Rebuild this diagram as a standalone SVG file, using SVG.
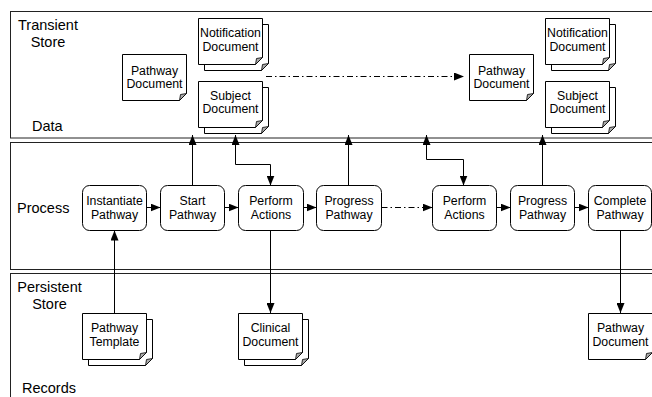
<svg xmlns="http://www.w3.org/2000/svg" xmlns:xlink="http://www.w3.org/1999/xlink" width="652" height="397" viewBox="0 0 652 397">
  <style>
    .band { fill: #fff; stroke: #222; stroke-width: 1; }
    .band-label { font-family: "Liberation Sans", Arial, sans-serif; font-size: 14.5px; fill: #000; }
    .node rect { fill: #fff; stroke: #000; stroke-width: 1; }
    .lbl { font-family: "Liberation Sans", Arial, sans-serif; font-size: 12.3px; fill: #000; text-anchor: middle; }
    .page { fill: #fff; stroke: #000; stroke-width: 1; stroke-linejoin: miter; }
    .flap { fill: #aaa; stroke: #000; stroke-width: 0.8; stroke-linejoin: miter; }
    .conn { fill: none; stroke: #000; stroke-width: 1; }
    .dashdot { stroke-dasharray: 6 3 1.5 3; }
  </style>
  <defs>
    <marker id="ah" viewBox="0 0 10 8" refX="10" refY="4" markerWidth="10" markerHeight="8" markerUnits="userSpaceOnUse" orient="auto-start-reverse">
      <path d="M0,0 L10,4 L0,8 z" fill="#000"/>
    </marker>
    <!-- single document page, 64 x 46, folded bottom-right corner -->
    <g id="page">
      <path class="page" d="M0,0 H64 V39 L57,46 H0 Z"/>
      <path class="flap" d="M64,39 L57,46 L58,40 Z"/>
    </g>
    <!-- stacked documents: back page offset behind front page -->
    <g id="stack">
      <use xlink:href="#page" x="6" y="6"/>
      <use xlink:href="#page"/>
    </g>
  </defs>

  <!-- swimlane bands -->
  <g id="bands">
    <rect class="band" x="10.5" y="11.5" width="700" height="126.5"/>
    <rect class="band" x="10.5" y="142.5" width="700" height="127"/>
    <rect class="band" x="10.5" y="273.5" width="700" height="160"/>
    <text class="band-label" x="48" y="30" text-anchor="middle">Transient</text>
    <text class="band-label" x="48" y="46.5" text-anchor="middle">Store</text>
    <text class="band-label" x="32" y="131">Data</text>
    <text class="band-label" x="17" y="213">Process</text>
    <text class="band-label" x="49.5" y="292" text-anchor="middle">Persistent</text>
    <text class="band-label" x="49.5" y="309" text-anchor="middle">Store</text>
    <text class="band-label" x="22" y="393">Records</text>
  </g>

  <!-- connectors -->
  <g id="connectors">
    <!-- process flow -->
    <path class="conn" d="M146.5,207.5 H160.5" marker-end="url(#ah)"/>
    <path class="conn" d="M224.5,207.5 H238.5" marker-end="url(#ah)"/>
    <path class="conn" d="M303.5,207.5 H316.5" marker-end="url(#ah)"/>
    <path class="conn dashdot" d="M381.5,207.5 H432.5" marker-end="url(#ah)"/>
    <path class="conn" d="M496.5,207.5 H510.5" marker-end="url(#ah)"/>
    <path class="conn" d="M574.5,207.5 H588.5" marker-end="url(#ah)"/>
    <!-- process to transient data -->
    <path class="conn" d="M192.5,185.5 V135" marker-end="url(#ah)"/>
    <path class="conn" d="M235.5,135 V164.5 H270.5 V185.5" marker-start="url(#ah)" marker-end="url(#ah)"/>
    <path class="conn" d="M348.5,185.5 V135" marker-end="url(#ah)"/>
    <path class="conn" d="M426.5,135 V159.5 H463.5 V185.5" marker-start="url(#ah)" marker-end="url(#ah)"/>
    <path class="conn" d="M542.5,185.5 V135" marker-end="url(#ah)"/>
    <!-- records -->
    <path class="conn" d="M114.5,313.5 V230.5" marker-end="url(#ah)"/>
    <path class="conn" d="M270.5,230.5 V313" marker-end="url(#ah)"/>
    <path class="conn" d="M620.5,230.5 V313" marker-end="url(#ah)"/>
    <!-- pathway document hand-over -->
    <path class="conn dashdot" d="M266,76.5 H464" marker-end="url(#ah)"/>
  </g>

  <!-- transient store documents -->
  <g id="doc-pathway-1">
    <use xlink:href="#page" x="122.5" y="54.5"/>
    <text class="lbl" x="154.5" y="74.5">Pathway</text>
    <text class="lbl" x="154.5" y="88">Document</text>
  </g>
  <g id="doc-notification-1">
    <use xlink:href="#stack" x="198.5" y="18.5"/>
    <text class="lbl" x="230.5" y="37">Notification</text>
    <text class="lbl" x="230.5" y="50.5">Document</text>
  </g>
  <g id="doc-subject-1">
    <use xlink:href="#stack" x="198.5" y="81.5"/>
    <text class="lbl" x="230.5" y="99.5">Subject</text>
    <text class="lbl" x="230.5" y="113">Document</text>
  </g>
  <g id="doc-pathway-2">
    <use xlink:href="#page" x="469.5" y="54.5"/>
    <text class="lbl" x="501.5" y="74.5">Pathway</text>
    <text class="lbl" x="501.5" y="88">Document</text>
  </g>
  <g id="doc-notification-2">
    <use xlink:href="#stack" x="545.5" y="18.5"/>
    <text class="lbl" x="577.5" y="37">Notification</text>
    <text class="lbl" x="577.5" y="50.5">Document</text>
  </g>
  <g id="doc-subject-2">
    <use xlink:href="#stack" x="545.5" y="81.5"/>
    <text class="lbl" x="577.5" y="99.5">Subject</text>
    <text class="lbl" x="577.5" y="113">Document</text>
  </g>

  <!-- process steps -->
  <g id="step-instantiate" class="node">
    <rect x="82.5" y="185.5" width="64" height="45" rx="7"/>
    <text class="lbl" x="114.5" y="204.5">Instantiate</text>
    <text class="lbl" x="114.5" y="218.5">Pathway</text>
  </g>
  <g id="step-start" class="node">
    <rect x="160.5" y="185.5" width="64" height="45" rx="7"/>
    <text class="lbl" x="192.5" y="204.5">Start</text>
    <text class="lbl" x="192.5" y="218.5">Pathway</text>
  </g>
  <g id="step-perform-1" class="node">
    <rect x="238.5" y="185.5" width="65" height="45" rx="7"/>
    <text class="lbl" x="271" y="204.5">Perform</text>
    <text class="lbl" x="271" y="218.5">Actions</text>
  </g>
  <g id="step-progress-1" class="node">
    <rect x="316.5" y="185.5" width="65" height="45" rx="7"/>
    <text class="lbl" x="349" y="204.5">Progress</text>
    <text class="lbl" x="349" y="218.5">Pathway</text>
  </g>
  <g id="step-perform-2" class="node">
    <rect x="432.5" y="185.5" width="64" height="45" rx="7"/>
    <text class="lbl" x="464.5" y="204.5">Perform</text>
    <text class="lbl" x="464.5" y="218.5">Actions</text>
  </g>
  <g id="step-progress-2" class="node">
    <rect x="510.5" y="185.5" width="64" height="45" rx="7"/>
    <text class="lbl" x="542.5" y="204.5">Progress</text>
    <text class="lbl" x="542.5" y="218.5">Pathway</text>
  </g>
  <g id="step-complete" class="node">
    <rect x="588.5" y="185.5" width="63" height="45" rx="7"/>
    <text class="lbl" x="620" y="204.5">Complete</text>
    <text class="lbl" x="620" y="218.5">Pathway</text>
  </g>

  <!-- persistent store records -->
  <g id="rec-template">
    <use xlink:href="#stack" x="82.5" y="313.5"/>
    <text class="lbl" x="114.5" y="332">Pathway</text>
    <text class="lbl" x="114.5" y="345.5">Template</text>
  </g>
  <g id="rec-clinical">
    <use xlink:href="#stack" x="238.5" y="313.5"/>
    <text class="lbl" x="270.5" y="332">Clinical</text>
    <text class="lbl" x="270.5" y="345.5">Document</text>
  </g>
  <g id="rec-pathway">
    <use xlink:href="#page" x="588.5" y="313.5"/>
    <text class="lbl" x="620.5" y="332">Pathway</text>
    <text class="lbl" x="620.5" y="345.5">Document</text>
  </g>
</svg>
